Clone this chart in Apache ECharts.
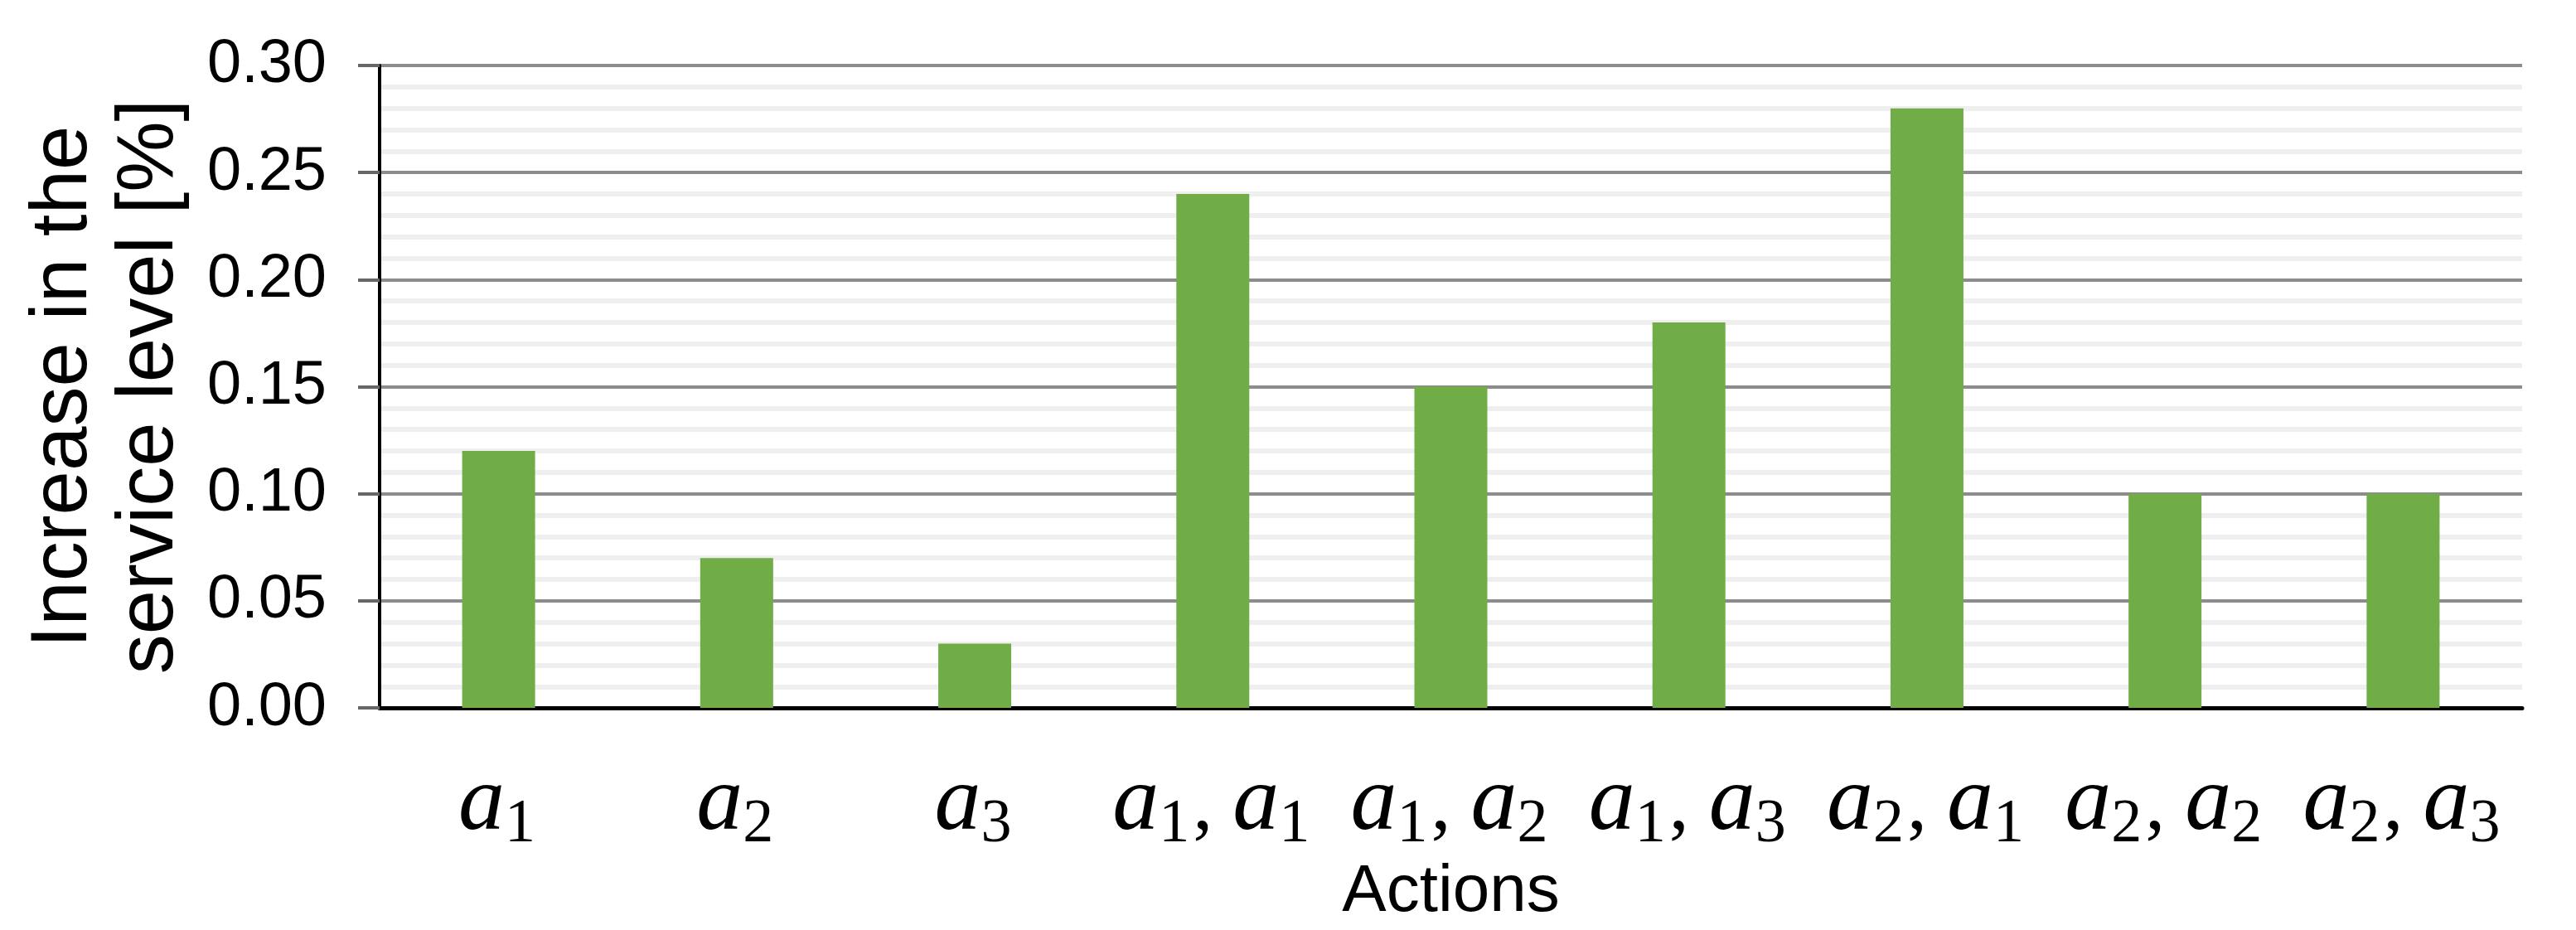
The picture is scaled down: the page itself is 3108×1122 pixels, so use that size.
<!DOCTYPE html>
<html>
<head>
<meta charset="utf-8">
<script src="https://cdn.jsdelivr.net/npm/echarts@6/dist/echarts.min.js"></script>
<style>
html,body{margin:0;padding:0;background:#fff;}
#chart{width:3108px;height:1122px;}
</style>
</head>
<body>
<div id="chart"></div>
<script>
// Categories as [first action, second action] index pairs (subscripts)
const categories = [["1"], ["2"], ["3"], ["1","1"], ["1","2"], ["1","3"], ["2","1"], ["2","2"], ["2","3"]];
const values = [0.12, 0.07, 0.03, 0.24, 0.15, 0.18, 0.28, 0.10, 0.10];
const yTicks = [0, 0.05, 0.10, 0.15, 0.20, 0.25, 0.30];
const xTitle = "Actions";
const yTitle = "Increase in the\nservice level [%]";

const catKeys = categories.map(c => c.join(","));
function fmtCat(key) {
  const parts = key.split(",");
  return parts.map(p => "{a|a}{s|" + p + "}").join("{c|, }");
}

const chart = echarts.init(document.getElementById('chart'));
chart.setOption({
  animation: false,
  backgroundColor: '#ffffff',
  grid: {left: 458, right: 65, top: 79, bottom: 258, containLabel: false},
  xAxis: {
    type: 'category',
    data: catKeys,
    axisLine: {show: true, lineStyle: {color: '#000', width: 5}},
    axisTick: {show: false},
    axisLabel: {
      margin: 60,
      interval: 0,
      formatter: fmtCat,
      rich: {
        a: {fontFamily: 'Liberation Serif', fontStyle: 'italic', fontSize: 112, color: '#000', lineHeight: 112, verticalAlign: 'top'},
        s: {fontFamily: 'Liberation Serif', fontSize: 74, color: '#000', lineHeight: 74, verticalAlign: 'top', padding: [44, 4, 0, 0]},
        c: {fontFamily: 'Liberation Serif', fontSize: 96, color: '#000', lineHeight: 96, verticalAlign: 'top', padding: [13, 0, 0, 0]}
      }
    },
    name: xTitle,
    nameLocation: 'middle',
    nameGap: 144,
    nameTextStyle: {fontFamily: 'Liberation Sans', fontSize: 80, color: '#000'}
  },
  yAxis: {
    type: 'value',
    min: 0,
    max: 0.30,
    interval: 0.05,
    axisLine: {show: true, lineStyle: {color: '#000', width: 4}},
    axisTick: {show: true, length: 26, lineStyle: {color: '#666', width: 4}},
    axisLabel: {
      margin: 64,
      fontFamily: 'Liberation Sans',
      fontSize: 74,
      color: '#000',
      formatter: v => v.toFixed(2)
    },
    splitLine: {show: true, lineStyle: {color: '#8c8c8c', width: 4}},
    minorTick: {show: false, splitNumber: 5},
    minorSplitLine: {show: true, lineStyle: {color: '#efefef', width: 6}},
    name: yTitle,
    nameLocation: 'middle',
    nameGap: 224,
    nameRotate: 90,
    nameTextStyle: {fontFamily: 'Liberation Sans', fontSize: 96, color: '#000', lineHeight: 104, align: 'center'}
  },
  series: [{
    type: 'bar',
    data: values,
    barWidth: 88,
    itemStyle: {color: '#70AD47'},
    z: 3
  }]
});
</script>
</body>
</html>
